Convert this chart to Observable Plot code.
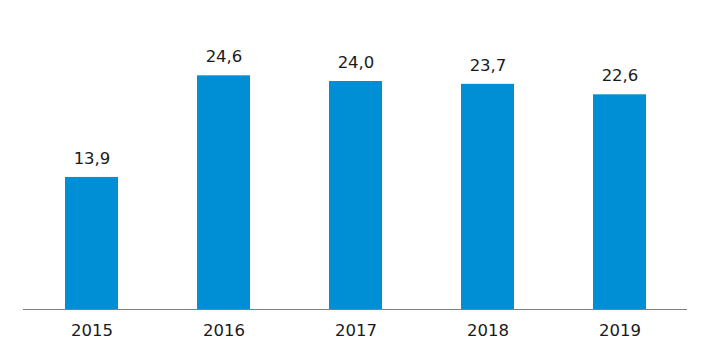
<!DOCTYPE html>
<html><head><meta charset="utf-8">
<script src="https://cdn.jsdelivr.net/npm/d3@7"></script>
<script src="https://cdn.jsdelivr.net/npm/@observablehq/plot@0.6"></script>
<style>body{margin:0;background:#fff}</style>
</head><body><div id="chart"></div>
<script>
const years = ["2015","2016","2017","2018","2019"];
const values = [13.9, 24.6, 24.0, 23.7, 22.6];
const data = years.map((y,i)=>({year:y, value:values[i]}));
const fmt = v => v.toFixed(1).replace(".", ",");
const chart = Plot.plot({
  width: 710, height: 355,
  marginLeft: 23, marginRight: 23, marginTop: 24, marginBottom: 46,
  style: {fontFamily: "DejaVu Sans, Verdana, sans-serif", fontSize: "16.5px", color: "#1a1a1a", background: "#fff"},
  x: {domain: years, paddingInner: 0.6, paddingOuter: 0.3, label: null, tickSize: 0, tickPadding: 15},
  y: {domain: [0, 30], axis: null},
  marks: [
    Plot.barY(data, {x: "year", y: "value", fill: "#008fd5"}),
    Plot.ruleY([0], {stroke: "#808080", strokeWidth: 1}),
    Plot.text(data, {x: "year", y: "value", text: d => fmt(d.value), dy: -19, fontSize: 16.5, fill: "#1a1a1a"})
  ]
});
document.getElementById("chart").appendChild(chart);
</script></body></html>
